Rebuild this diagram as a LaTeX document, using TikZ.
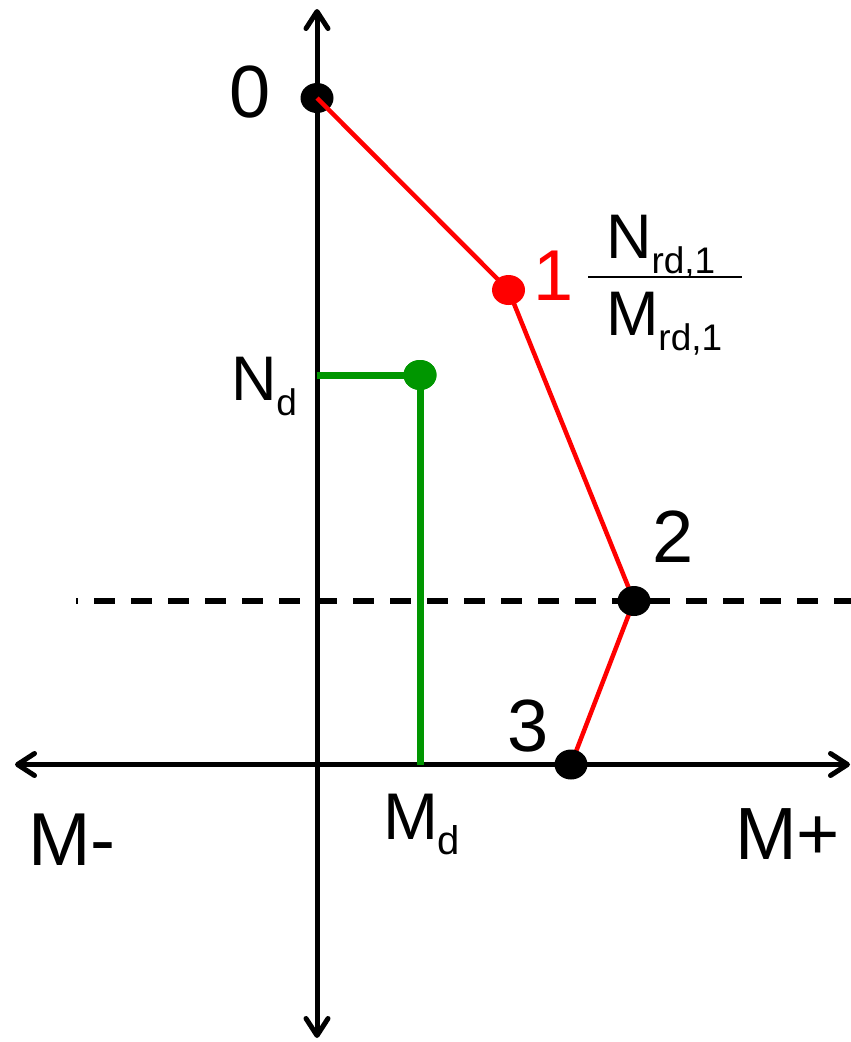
\documentclass[tikz,border=0pt]{standalone}
\usepackage{fontspec}
\setmainfont{Liberation Sans}
\usetikzlibrary{arrows.meta,shapes.geometric}
\definecolor{dgreen}{RGB}{0,150,0}
\definecolor{pred}{RGB}{255,0,0}
\newcommand{\fsz}[1]{\fontsize{#1}{#1}\selectfont}
\newcommand{\lowsub}[2]{\raisebox{-15pt}{\fsz{#1}#2}}
\begin{document}
\begin{tikzpicture}[x=1pt,y=-1pt,
  axis/.style={line width=5pt,black,{Straight Barb[length=17pt,width=22pt,round]}-{Straight Barb[length=17pt,width=22pt,round]}},
  dot/.style={ellipse,minimum width=33pt,minimum height=30pt,inner sep=0pt,draw=none,fill=#1},
  lbl/.style={anchor=base west,inner sep=0pt,outer sep=0pt},
  redline/.style={line width=4.5pt,pred},
  greenline/.style={line width=7pt,dgreen}]
\useasboundingbox (0,0) rectangle (851,1042);
% axes
\coordinate (ytop) at (317,9);
\coordinate (ybot) at (317,1038);
\coordinate (xleft) at (15,764.5);
\coordinate (xright) at (850,764.5);
\draw[axis] (ybot) -- (ytop);
\draw[axis] (xleft) -- (xright);
% dashed line
\coordinate (dl) at (76,601);
\coordinate (dr) at (851,601);
\draw[line width=5.5pt,dash pattern=on 21pt off 16pt,dash phase=19pt] (dl) -- (dr);
% green design point
\coordinate (gaxis) at (317,375);
\coordinate (gfoot) at (420,764.5);
\node[dot=dgreen] (gd) at (420,375) {};
\draw[greenline] (gaxis) -- (gd.center) -- (gfoot);
\node[dot=dgreen] at (gd.center) {};
% interaction points
\node[dot=black] (p0) at (317,98) {};
\node[dot=black,opacity=0] (p1) at (508.5,290) {};
\node[dot=black,opacity=0] (p2) at (634,601) {};
\node[dot=black,opacity=0] (p3) at (571,764.5) {};
\draw[redline] (p0.center) -- (p1.center) -- (p2.center) -- (p3.center);
\node[dot=pred] at (p1.center) {};
\node[dot=black] at (p2.center) {};
\node[dot=black] at (p3.center) {};
% labels
\node[lbl] (l0) at (229,117) {\fsz{74}0};
\node[lbl,text=pred] (l1) at (533,300) {\fsz{72}1};
\node[lbl] (l2) at (652,562) {\fsz{74}2};
\node[lbl] (l3) at (507,751) {\fsz{74}3};
\node[lbl] (nd) at (231,400) {\fsz{63}N\lowsub{37}{d}};
\node[lbl] (nrd) at (606,258) {\fsz{63}N\lowsub{37}{rd,1}};
\node[lbl] (mrd) at (606,335) {\fsz{63}M\lowsub{37}{rd,1}};
\coordinate (fl) at (588,277);
\coordinate (fr) at (742,277);
\draw[line width=2.5pt] (fl) -- (fr);
\node[lbl] (md) at (383,839) {\fsz{66}M\lowsub{40}{d}};
\node[lbl] (mminus) at (28,865) {\fsz{75}M-};
\node[lbl] (mplus) at (735,859) {\fsz{74}M+};
\end{tikzpicture}
\end{document}
